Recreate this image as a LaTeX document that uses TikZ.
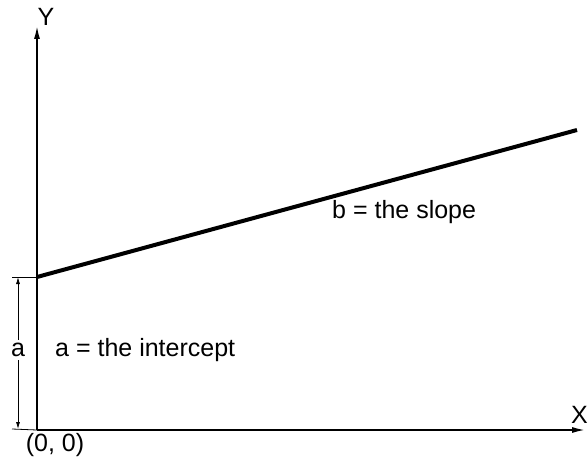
\documentclass[tikz,border=0pt]{standalone}
\usepackage{fontspec}
\setmainfont{Liberation Sans}
\usetikzlibrary{arrows.meta}

\begin{document}
\begin{tikzpicture}[x=1pt,y=1pt,
  lbl/.style={font=\fontsize{25}{29}\selectfont, inner sep=0pt},
  axis/.style={line width=2pt, -{Latex[length=14pt,width=6pt]}},
  dim/.style={line width=0.8pt, {Latex[length=7pt,width=4pt]}-{Latex[length=7pt,width=4pt]}}]
\useasboundingbox (0,0) rectangle (588,459);
% axes
\coordinate (O) at (37,29);
\coordinate (Ytop) at (37,434);
\coordinate (Xend) at (586,29);
\draw[axis] (O) -- (Ytop);
\draw[axis] (O) -- (Xend);
\node[lbl] (ylab) at (46,442) {Y};
\node[lbl, anchor=east] (xlab) at (588,44) {X};
\node[lbl] (orig) at (55,14) {(0, 0)};
% regression line
\coordinate (A) at (37,182);
\coordinate (B) at (577,329);
\draw[line width=4pt] (A) -- (B);
\node[lbl, anchor=west] (slope) at (332,247) {b = the slope};
% intercept
\coordinate (dtop) at (18,182);
\coordinate (dbot) at (18,30);
\draw[line width=0.8pt] (12,182) -- (A);
\draw[line width=0.8pt] (12,30) -- (O);
\draw[dim] (dbot) -- (dtop);
\node[lbl, fill=white, inner sep=3pt] (alab) at (18,109) {a};
\node[lbl, anchor=west] (icpt) at (55,109) {a = the intercept};
\end{tikzpicture}
\end{document}
